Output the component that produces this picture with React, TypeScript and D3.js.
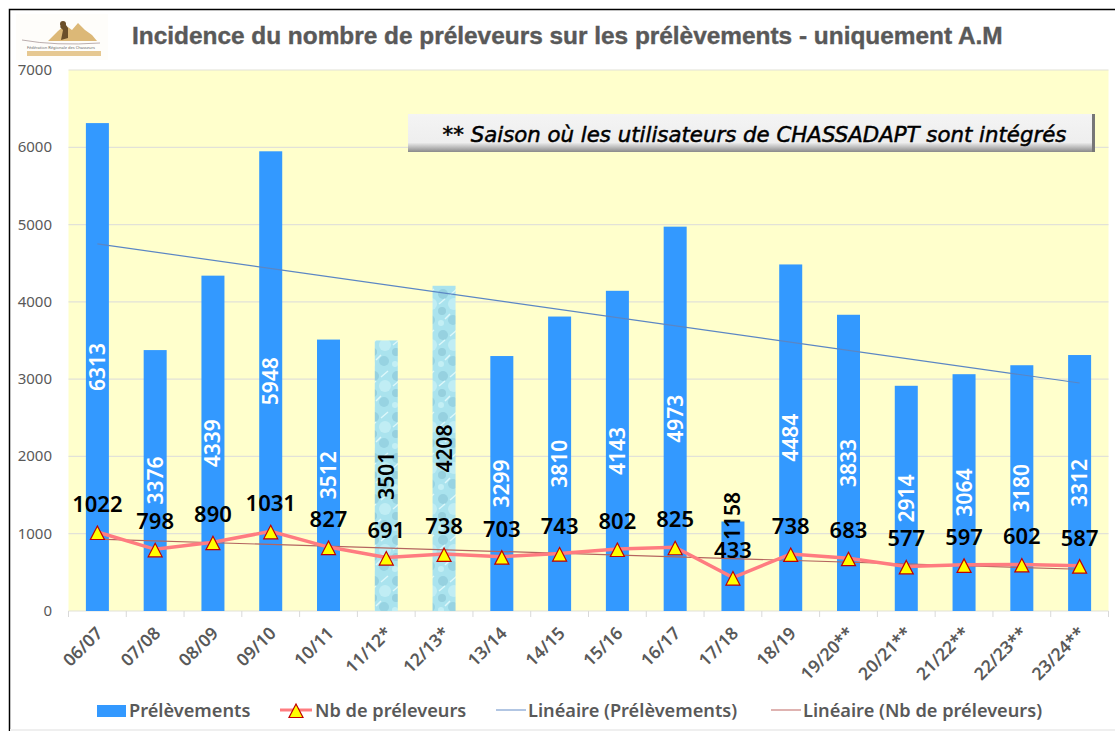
import React from "react";
import * as d3 from "d3";

const seasons = ["06/07","07/08","08/09","09/10","10/11","11/12*","12/13*","13/14","14/15","15/16","16/17","17/18","18/19","19/20**","20/21**","21/22**","22/23**","23/24**"];
const prelevements = [6313,3376,4339,5948,3512,3501,4208,3299,3810,4143,4973,1158,4484,3833,2914,3064,3180,3312];
const preleveurs = [1022,798,890,1031,827,691,738,703,743,802,825,433,738,683,577,597,602,587];
const texturedSeasons = ["11/12*","12/13*"];
const trendPrelevements = [4750,2950];
const trendPreleveurs = [930,540];
const yTicks = [0,1000,2000,3000,4000,5000,6000,7000];
const title = "Incidence du nombre de préleveurs sur les prélèvements - uniquement A.M";
const note = "** Saison où les utilisateurs de CHASSADAPT sont intégrés";
const legendNames = ["Prélèvements","Nb de préleveurs","Linéaire (Prélèvements)","Linéaire (Nb de préleveurs)"];

const W = 1115, H = 731;
const x = d3.scaleBand<string>().domain(seasons).range([68.5,1108.5]);
const y = d3.scaleLinear().domain([0,7000]).range([611,70]);
const BLUE = "#3399ff";
const GREY = "#595959";
const sans = "'Noto Sans', 'Open Sans', sans-serif";
const barW = 23;
const cx = (s: string) => (x(s) as number) + x.bandwidth()/2;
const line = d3.line<number>().x((_, i) => cx(seasons[i])).y(d => y(d));
const tri = "M0,-6L7,7.5L-7,7.5Z";

function Legend() {
  const ly = 710;
  return (
    <g fontFamily={sans} fontSize={18.2} fontWeight={600} fill={GREY}>
      <rect x={97} y={705} width={29} height={12} fill={BLUE}/>
      <text x={129} y={ly+6.5}>{legendNames[0]}</text>
      <line x1={280} x2={312} y1={ly} y2={ly} stroke="#ff7c80" strokeWidth={3}/>
      <path d={tri} transform={`translate(296,${ly})`} fill="#ffff00" stroke="#c00000" strokeWidth={1.2}/>
      <text x={315} y={ly+6.5}>{legendNames[1]}</text>
      <line x1={496} x2={526} y1={ly} y2={ly} stroke="#7f9fd0" strokeWidth={1.2}/>
      <text x={528} y={ly+6.5}>{legendNames[2]}</text>
      <line x1={771} x2={801} y1={ly} y2={ly} stroke="#c9807c" strokeWidth={1.2}/>
      <text x={803} y={ly+6.5}>{legendNames[3]}</text>
    </g>
  );
}

export default function App() {
  return (
    <svg width={W} height={H} viewBox={`0 0 ${W} ${H}`} style={{position:"absolute",left:0,top:0,background:"#fff"}}>
      <defs>
        <pattern id="water" width="23" height="41" patternUnits="userSpaceOnUse">
          <rect width="23" height="41" fill="#aae3ee"/>
          <circle cx="6" cy="7" r="5" fill="#8fcbdb" opacity="0.75"/>
          <circle cx="17" cy="17" r="6" fill="#c6f0f5" opacity="0.8"/>
          <circle cx="5" cy="24" r="4" fill="#8ec8d8" opacity="0.7"/>
          <circle cx="16" cy="33" r="5" fill="#90cddd" opacity="0.75"/>
          <circle cx="4" cy="36" r="3" fill="#c9f2f6" opacity="0.8"/>
          <path d="M13,8l7,-6M2,17l6,-5M8,32l5,-5" stroke="#dcf7fa" strokeWidth="1.5"/>
        </pattern>
        <linearGradient id="noteFill" x1="0" x2="0" y1="0" y2="1">
          <stop offset="0" stopColor="#f4f4f4"/>
          <stop offset="0.75" stopColor="#eeeeee"/>
          <stop offset="1" stopColor="#8a8a8a"/>
        </linearGradient>
      </defs>
      <rect x={9.5} y={9.5} width={W} height={H} fill="#fff" stroke="#000" strokeWidth={1.5}/>
      <rect x={10} y={729} width={W-10} height={2} fill="#efefef"/>
      <rect x={68.5} y={70} width={1040} height={541} fill="#ffffcc"/>
      {yTicks.map(t => (
        <g key={t}>
          <line x1={68.5} x2={1108.5} y1={y(t)} y2={y(t)} stroke="#e2e2d8" strokeWidth={1.2}/>
          <text x={52} y={y(t)+5} textAnchor="end" fontFamily={sans} fontSize={15} fill={GREY}>{t}</text>
        </g>
      ))}
      {seasons.map((s,i) => (
        <rect key={s} x={cx(s)-barW/2} y={y(prelevements[i])} width={barW} height={y(0)-y(prelevements[i])}
          fill={texturedSeasons.includes(s) ? "url(#water)" : BLUE}/>
      ))}
      {[...seasons.map(s => x(s) as number), 1108.5].map((t,i) => (
        <line key={i} x1={t} x2={t} y1={611} y2={617} stroke="#d9d9d9"/>
      ))}
      {seasons.map(s => (
        <text key={s} transform={`translate(${cx(s)+3},${631}) rotate(-45)`} textAnchor="end" dominantBaseline="middle"
          fontFamily={sans} fontSize={17.5} fontWeight={600} fill={GREY}>{s}</text>
      ))}
      <line x1={cx(seasons[0])} x2={cx(seasons[17])} y1={y(trendPrelevements[0])} y2={y(trendPrelevements[1])} stroke="#5b86c4" strokeWidth={1.2}/>
      <line x1={cx(seasons[0])} x2={cx(seasons[17])} y1={y(trendPreleveurs[0])} y2={y(trendPreleveurs[1])} stroke="#b5655f" strokeWidth={1.2}/>
      <path d={line(preleveurs) as string} fill="none" stroke="#ff7c80" strokeWidth={3.5}/>
      {seasons.map((s,i) => (
        <path key={s} d={tri} transform={`translate(${cx(s)},${y(preleveurs[i])})`} fill="#ffff00" stroke="#c00000" strokeWidth={1.2}/>
      ))}
      {seasons.map((s,i) => {
        const textured = texturedSeasons.includes(s);
        const small = prelevements[i] < 2000;
        return (
          <text key={s} transform={`translate(${cx(s)+7.5},${small ? 516 : y(prelevements[i]/2)}) rotate(-90)`} textAnchor="middle"
            fontFamily={sans} fontSize={21} fontWeight={600} fill={textured || small ? "#000" : "#fff"}>{prelevements[i]}</text>
        );
      })}
      {seasons.map((s,i) => (
        <text key={s} x={cx(s)} y={y(preleveurs[i])-20} textAnchor="middle" fontFamily={sans} fontSize={22} fontWeight={600} fill="#000">{preleveurs[i]}</text>
      ))}
      <text x={132} y={44} fontFamily="'Liberation Sans', Arial, sans-serif" fontSize={24.4} fontWeight={700} fill={GREY} stroke={GREY} strokeWidth={0.4}>{title}</text>
      <g>
        <rect x={408} y={114} width={687} height={38} fill="url(#noteFill)"/>
        <rect x={1092} y={114} width={3} height={38} fill="#777"/>
        <text x={754.5} y={142} textAnchor="middle" fontFamily="'DejaVu Sans', sans-serif" fontSize={21.3} fontStyle="italic" fontWeight={400} stroke="#000" strokeWidth={0.5} fill="#000">{note}</text>
      </g>
      <g>
        <rect x={16} y={14} width={92} height={46} fill="#fefdfa"/>
        <path d="M48,41 L58,31 L65,25 L72,30 L78,23 L85,30 L92,35 L97,41 Z" fill="#dcb877"/>
        <path d="M61,40 L63,30 L60,27 L64,22 L68,28 L68,38 Z" fill="#6b4f2a"/>
        <circle cx={63} cy={24} r={3} fill="#6b4f2a"/>
        <path d="M22,40 Q55,46 100,43" fill="none" stroke="#a99" strokeWidth={0.8}/>
        <rect x={27} y={51} width={74} height={5} fill="#e6c891"/>
        <text x={27} y={49} fontFamily={sans} fontSize={4} fill="#666">Fédération Régionale des Chasseurs</text>
      </g>
      <Legend/>
    </svg>
  );
}
